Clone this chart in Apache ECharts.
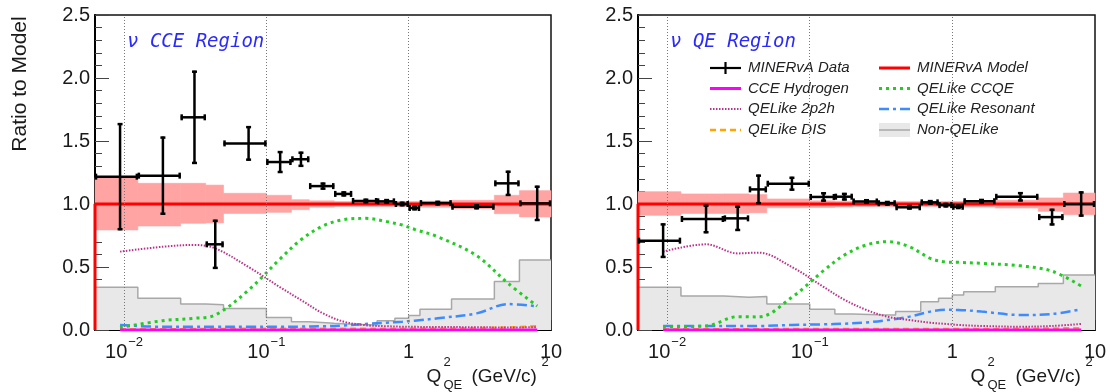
<!DOCTYPE html>
<html><head><meta charset="utf-8">
<script src="https://cdn.jsdelivr.net/npm/echarts@6/dist/echarts.min.js"></script>
<style>html,body{margin:0;padding:0;background:#fff}#c{width:1110px;height:392px}</style>
</head><body><div id="c"></div>
<script>
// ---------- DATA ----------
const binEdges   = [0.00625,0.0125,0.025,0.0375,0.05,0.1,0.15,0.2,0.3,0.4,0.6,0.8,1.0,1.2,2.0,4.0,6.0,10.0];
const binCenters = [0.009375,0.01875,0.03125,0.04375,0.075,0.125,0.175,0.25,0.35,0.5,0.7,0.9,1.1,1.6,3,5,8];
const xMajorTicks = [0.01,0.1,1,10];
const yTicks = [0,0.5,1.0,1.5,2.0,2.5];
const panelTitles = ['\u03bd CCE Region','\u03bd QE Region'];
const legendLabelsCol1 = ['MINERvA Data','CCE Hydrogen','QELike 2p2h','QELike DIS'];
const legendLabelsCol2 = ['MINERvA Model','QELike CCQE','QELike Resonant','Non-QELike'];

// nu CCE region (left)
const cceData   = [1.217,1.225,1.688,0.680,1.481,1.333,1.355,1.142,1.080,1.024,1.021,1.000,0.968,1.007,0.978,1.164,1.005];
const cceErr    = [0.425,0.310,0.370,0.195,0.137,0.087,0.060,0.028,0.020,0.018,0.018,0.018,0.018,0.018,0.020,0.100,0.140];
const cceBandHi = [1.210,1.164,1.164,1.150,1.085,1.069,1.034,1.025,1.020,1.020,1.020,1.020,1.020,1.022,1.029,1.069,1.106];
const cceBandLo = [0.794,0.825,0.847,0.850,0.925,0.934,0.955,0.975,0.980,0.980,0.980,0.980,0.980,0.975,0.963,0.923,0.897];
const cceNonQE  = [0.339,0.251,0.206,0.200,0.170,0.100,0.066,0.053,0.045,0.040,0.074,0.093,0.115,0.165,0.247,0.384,0.556];
const cce2p2h   = [0.622,0.661,0.675,0.648,0.500,0.339,0.238,0.132,0.066,0.038,0.030,0.026,0.025,0.024,0.022,0.020,0.022];
const cceCCQE   = [0.020,0.074,0.093,0.119,0.317,0.565,0.716,0.826,0.876,0.886,0.860,0.833,0.799,0.740,0.590,0.370,0.190];
const cceRes    = [0.040,0.025,0.025,0.025,0.025,0.025,0.027,0.030,0.036,0.048,0.058,0.066,0.074,0.093,0.132,0.206,0.188];
const cceDIS    = [0.005,0.005,0.008,0.008,0.010,0.010,0.010,0.010,0.010,0.010,0.010,0.010,0.012,0.012,0.015,0.020,0.030];
const cceHydro  = [0,0,0,0,0,0,0,0,0,0,0,0,0,0,0,0,0];

// nu QE region (right)
const qeData    = [0.709,0.881,0.886,1.116,1.161,1.056,1.058,1.020,1.006,0.974,1.013,0.991,0.978,1.022,1.057,0.896,1.000];
const qeErr     = [0.137,0.113,0.100,0.117,0.055,0.037,0.030,0.018,0.018,0.018,0.018,0.018,0.018,0.018,0.037,0.066,0.100];
const qeBandHi  = [1.098,1.080,1.080,1.075,1.040,1.025,1.022,1.020,1.020,1.020,1.020,1.020,1.020,1.022,1.030,1.048,1.087];
const qeBandLo  = [0.910,0.925,0.925,0.930,0.970,0.972,0.976,0.980,0.980,0.980,0.980,0.980,0.980,0.976,0.968,0.942,0.915];
const qeNonQE   = [0.339,0.270,0.259,0.265,0.206,0.164,0.127,0.122,0.120,0.146,0.225,0.251,0.278,0.304,0.344,0.370,0.437];
const qe2p2h    = [0.622,0.680,0.608,0.614,0.500,0.342,0.240,0.159,0.106,0.079,0.058,0.048,0.040,0.032,0.026,0.032,0.048];
const qeCCQE    = [0.026,0.032,0.106,0.104,0.260,0.471,0.595,0.675,0.701,0.661,0.569,0.540,0.537,0.529,0.509,0.467,0.349];
const qeRes     = [0.032,0.032,0.032,0.032,0.040,0.045,0.050,0.060,0.079,0.106,0.146,0.160,0.159,0.146,0.119,0.127,0.164];
const qeDIS     = [0.005,0.005,0.006,0.006,0.008,0.008,0.008,0.008,0.008,0.008,0.008,0.008,0.008,0.008,0.010,0.012,0.015];
const qeHydro   = [0,0,0,0,0,0,0,0,0,0,0,0,0,0,0,0,0];

// ---------- BUILD ----------
const L = v => Math.log10(v);
const LMIN = L(binEdges[0]), LMAX = L(binEdges[binEdges.length-1]);
const FONT = 'Liberation Sans';

const panels = [
  {data:cceData, err:cceErr, hi:cceBandHi, lo:cceBandLo, nonqe:cceNonQE,
   curves:{p2h:cce2p2h, ccqe:cceCCQE, res:cceRes, dis:cceDIS, hyd:cceHydro}},
  {data:qeData, err:qeErr, hi:qeBandHi, lo:qeBandLo, nonqe:qeNonQE,
   curves:{p2h:qe2p2h, ccqe:qeCCQE, res:qeRes, dis:qeDIS, hyd:qeHydro}}
];

const curveStyles = [
  {key:'dis',  color:'#ffa500', width:2.5, type:[6,4]},
  {key:'res',  color:'#3d8bff', width:2.5, type:[10,4,3,4]},
  {key:'p2h',  color:'#bb3388', width:2,   type:[1.5,1.5]},
  {key:'ccqe', color:'#22cc22', width:3,   type:[3,4]},
  {key:'hyd',  color:'#ff00ff', width:3,   type:'solid'}
];

const minorVals = [];
for (let d=-3; d<=0; d++) for (let k=2; k<=9; k++) {
  const lv = L(k*Math.pow(10,d));
  if (lv > LMIN && lv < LMAX) minorVals.push(lv);
}
const majorVals = xMajorTicks.map(L);

function xLabel(v) {
  const e = Math.round(v);
  if (e < 0) return '{b|10}{s|\u2212' + (-e) + '}';
  return '{b|' + Math.pow(10,e) + '}';
}

const grids = [
  {left:95, top:15, width:456, height:315},
  {left:638, top:15, width:457, height:315}
];

const xAxes = [], yAxes = [], series = [];
grids.forEach((g,p) => {
  g.show = true; g.borderColor = '#111'; g.borderWidth = 1.5; g.outerBoundsMode = 'none'; g.containLabel = false;
  xAxes.push({type:'value', gridIndex:p, position:'bottom', min:LMIN, max:LMAX,
    axisLine:{show:true, onZero:false, lineStyle:{color:'#000', width:2}},
    axisTick:{show:true, inside:true, length:10, customValues:majorVals, lineStyle:{color:'#333', width:1}},
    axisLabel:{show:true, customValues:majorVals, formatter:xLabel, margin:6, color:'#1a1a1a',
      rich:{b:{fontSize:20, fontFamily:FONT, color:'#1a1a1a', padding:[6,0,0,0], verticalAlign:'bottom'},
            s:{fontSize:13, fontFamily:FONT, color:'#1a1a1a', verticalAlign:'top', padding:[0,0,0,1]}}},
    splitLine:{show:false}});
  xAxes.push({type:'value', gridIndex:p, position:'bottom', min:LMIN, max:LMAX,
    axisLine:{show:false}, axisLabel:{show:false}, splitLine:{show:false},
    axisTick:{show:true, inside:true, length:5, customValues:minorVals, lineStyle:{color:'#333', width:1}}});
  yAxes.push({type:'value', gridIndex:p, min:0, max:2.5, interval:0.5,
    axisLine:{show:true, onZero:false, lineStyle:{color:'#000', width:2}},
    axisTick:{show:true, inside:true, length:14, lineStyle:{color:'#444', width:1}},
    minorTick:{show:true, splitNumber:5, length:7, lineStyle:{color:'#444', width:1}},
    axisLabel:{formatter:v=>v.toFixed(1), fontSize:20, fontFamily:FONT, color:'#1a1a1a', margin:5},
    splitLine:{show:false}});

  const P = panels[p], xi = 2*p, yi = p;
  // Non-QELike histogram
  const gd = binEdges.slice(0,-1).map((e,i)=>[L(e), P.nonqe[i]]);
  gd.push([LMAX, P.nonqe[P.nonqe.length-1]]);
  series.push({type:'line', xAxisIndex:xi, yAxisIndex:yi, step:'end', data:gd, symbol:'none',
    lineStyle:{color:'#a8a8a8', width:1.5}, areaStyle:{color:'#e8e8e8', opacity:1}, z:1, silent:true});
  // model error band
  series.push({type:'custom', xAxisIndex:xi, yAxisIndex:yi, z:2, silent:true,
    data: binCenters.map((c,i)=>[L(binEdges[i]), L(binEdges[i+1]), P.lo[i], P.hi[i]]),
    encode:{x:[0,1], y:[2,3]},
    renderItem:(params, api)=>{
      const a = api.coord([api.value(0), api.value(3)]);
      const b = api.coord([api.value(1), api.value(2)]);
      return {type:'rect', shape:{x:a[0], y:a[1], width:b[0]-a[0], height:b[1]-a[1]},
        style:{fill:'#ffa3a3', stroke:'#ffa3a3', lineWidth:0.6}};
    }});
  // component curves
  curveStyles.forEach(cs => {
    series.push({type:'line', xAxisIndex:xi, yAxisIndex:yi, z:3, silent:true, symbol:'none', smooth:0.35,
      data: binCenters.map((c,i)=>[L(c), P.curves[cs.key][i]]),
      lineStyle:{color:cs.color, width:cs.width, type:cs.type}});
  });
  // model line (ratio = 1)
  series.push({type:'line', xAxisIndex:xi, yAxisIndex:yi, z:4, silent:true, symbol:'none', clip:false,
    data:[[LMIN,0],[LMIN,1],[LMAX,1]], lineStyle:{color:'#ff0000', width:3},
    markLine:{silent:true, symbol:'none', label:{show:false}, animation:false,
      lineStyle:{color:'#777', type:[1,2], width:1},
      data: majorVals.slice(0,3).map(v=>({xAxis:v}))}});
  // data points with error bars
  series.push({type:'custom', xAxisIndex:xi, yAxisIndex:yi, z:5, silent:true,
    data: binCenters.map((c,i)=>[L(c), P.data[i], P.err[i], L(binEdges[i]), L(binEdges[i+1])]),
    encode:{x:0, y:1},
    renderItem:(params, api)=>{
      const x = api.value(0), y = api.value(1), e = api.value(2);
      const c = api.coord([x,y]), l = api.coord([api.value(3),y]), h = api.coord([api.value(4),y]);
      const t = api.coord([x,y+e]), b = api.coord([x,y-e]);
      const st = {stroke:'#000', lineWidth:2.5};
      const ln = (x1,y1,x2,y2)=>({type:'line', shape:{x1,y1,x2,y2}, style:st});
      return {type:'group', children:[
        ln(l[0],c[1],h[0],c[1]), ln(c[0],t[1],c[0],b[1]),
        ln(l[0]+1,c[1]-3,l[0]+1,c[1]+3), ln(h[0]-1,c[1]-3,h[0]-1,c[1]+3),
        ln(c[0]-2.5,t[1]+1,c[0]+2.5,t[1]+1), ln(c[0]-2.5,b[1]-1,c[0]+2.5,b[1]-1)
      ]};
    }});
});

// ---------- GRAPHICS (titles, legend) ----------
const gfx = [];
gfx.push({type:'text', x:20, y:84, rotation:Math.PI/2,
  style:{text:'Ratio to Model', fontSize:21, fontFamily:FONT, fill:'#1a1a1a', align:'center', verticalAlign:'middle'}});
[0,544].forEach((dx,p)=>{
  const tx = (x,y,t,fs,al)=>({type:'text', x:x+dx, y:y, style:{text:t, fontSize:fs, fontFamily:FONT, fill:'#1a1a1a', align:al||'left', verticalAlign:'middle'}});
  gfx.push(tx(426.5,377,'Q',19));
  gfx.push(tx(443.5,362.5,'2',13));
  gfx.push(tx(443.5,385,'QE',13));
  gfx.push(tx(471.5,377,'(GeV/c)',19));
  gfx.push(tx(541.5,362.5,'2',13));
});
gfx.push({type:'text', x:127, y:42, style:{text:panelTitles[0], fontSize:19, fontFamily:'DejaVu Sans Mono', fontStyle:'italic', fill:'#2a2aff', verticalAlign:'middle'}});
gfx.push({type:'text', x:670, y:42, style:{text:panelTitles[1], fontSize:19, fontFamily:'DejaVu Sans Mono', fontStyle:'italic', fill:'#2a2aff', verticalAlign:'middle'}});

const rowY = [68, 88.5, 109, 130];
const cols = [{x0:710, x1:741, tx:748, labels:legendLabelsCol1}, {x0:879, x1:910, tx:917, labels:legendLabelsCol2}];
const legLine = (x1,y,x2,color,w,dash)=>({type:'line', shape:{x1,y1:y,x2,y2:y}, style:{stroke:color, lineWidth:w, lineDash:dash||null}});
cols.forEach((c,ci)=>{
  c.labels.forEach((lab,ri)=>{
    const y = rowY[ri];
    gfx.push({type:'text', x:c.tx, y:y, style:{text:lab, fontSize:15, fontFamily:FONT, fontStyle:'italic', fill:'#222', verticalAlign:'middle'}});
  });
});
// column 1 samples
gfx.push(legLine(710,rowY[0],741,'#000',2.2));
gfx.push({type:'line', shape:{x1:725.5,y1:rowY[0]-6,x2:725.5,y2:rowY[0]+6}, style:{stroke:'#000', lineWidth:2.2}});
gfx.push(legLine(710,rowY[1],741,'#ff00ff',3));
gfx.push(legLine(710,rowY[2],741,'#bb3388',2,[1.5,1.5]));
gfx.push(legLine(710,rowY[3],741,'#ffa500',2.5,[6,4]));
// column 2 samples
gfx.push(legLine(879,rowY[0],910,'#ff0000',3));
gfx.push(legLine(879,rowY[1],910,'#22cc22',3,[3,4]));
gfx.push(legLine(879,rowY[2],910,'#3d8bff',2.5,[10,4,3,4]));
gfx.push({type:'rect', shape:{x:879,y:rowY[3]-7,width:31,height:14}, style:{fill:'#e8e8e8'}});
gfx.push(legLine(879,rowY[3],910,'#a8a8a8',1.5));

const chart = echarts.init(document.getElementById('c'), null, {renderer:'canvas'});
chart.setOption({
  animation:false,
  backgroundColor:'#fff',
  grid:grids, xAxis:xAxes, yAxis:yAxes, series:series, graphic:gfx
});
</script></body></html>
